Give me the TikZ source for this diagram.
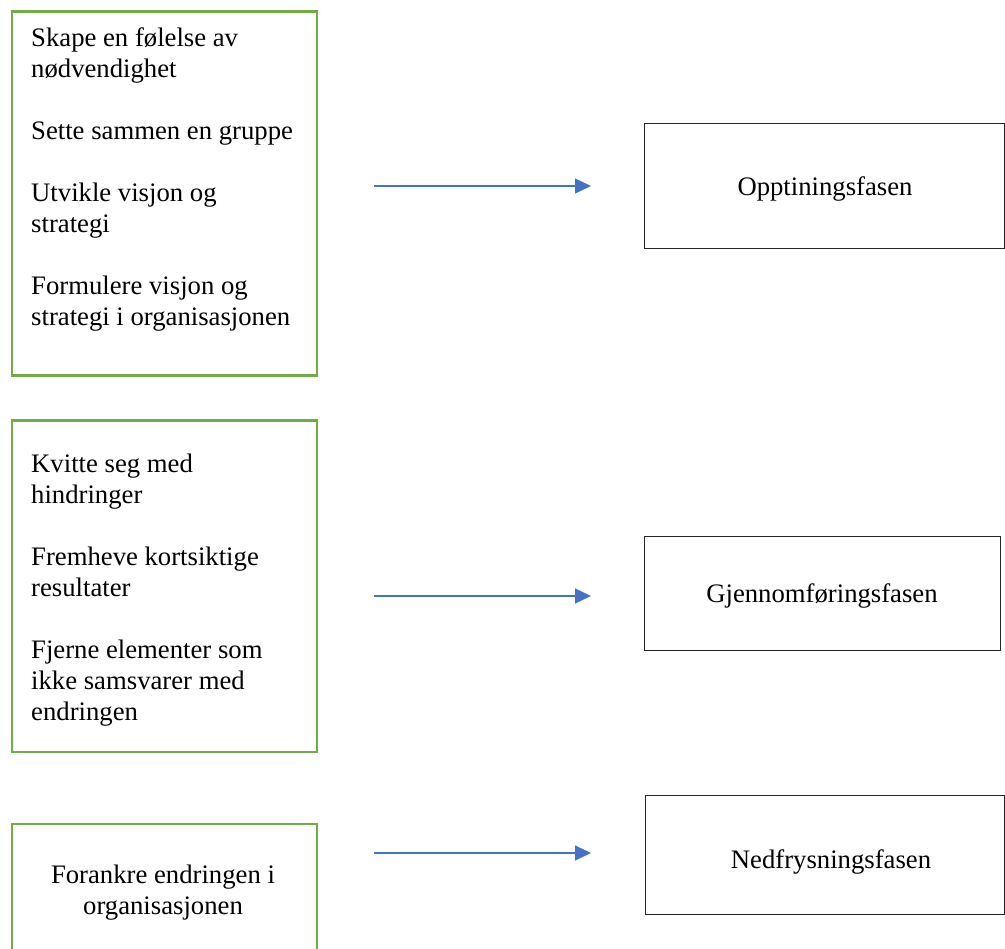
\documentclass[tikz,border=0pt]{standalone}
\usepackage{fontspec}
\setmainfont{Liberation Serif}
\usetikzlibrary{arrows.meta}
\definecolor{boxgreen}{RGB}{112,173,71}
\definecolor{arrowblue}{RGB}{68,114,196}
\begin{document}
\begin{tikzpicture}[x=1pt,y=-1pt,
  greenbox/.style={draw=boxgreen,line width=2.6pt,rectangle,inner sep=0pt,anchor=north west},
  phasebox/.style={draw=black!85,line width=1.3pt,rectangle,inner sep=0pt,anchor=north west},
  txt/.style={font=\fontsize{26.7}{31}\selectfont,inner sep=0pt},
  flow/.style={draw=arrowblue,line width=1.2pt,-{Triangle[length=16pt,width=15pt]}}]
\clip (0,0) rectangle (1005,949);
% green boxes
\node[greenbox,minimum width=305pt,minimum height=364pt] (g1) at (10.5,10.5) {};
\node[greenbox,minimum width=305pt,minimum height=331pt] (g2) at (10.5,419.5) {};
\node[greenbox,minimum width=305pt,minimum height=200pt] (g3) at (10.5,822.5) {};
% texts in green boxes
\node[txt,align=left,anchor=north west] (t1) at (31,28) {Skape en følelse av\\nødvendighet\\[31pt]Sette sammen en gruppe\\[31pt]Utvikle visjon og\\strategi\\[31pt]Formulere visjon og\\strategi i organisasjonen};
\node[txt,align=left,anchor=north west] (t2) at (31,454) {Kvitte seg med\\hindringer\\[31pt]Fremheve kortsiktige\\resultater\\[31pt]Fjerne elementer som\\ikke samsvarer med\\endringen};
\node[txt,align=center,anchor=north] (t3) at (163,865) {Forankre endringen i\\organisasjonen};
% phase boxes
\node[phasebox,minimum width=360pt,minimum height=125pt] (p1) at (644,123) {};
\node[phasebox,minimum width=356pt,minimum height=114pt] (p2) at (644,536) {};
\node[phasebox,minimum width=359pt,minimum height=119pt] (p3) at (645,795) {};
\node[txt] (l1) at (825,189) {Opptiningsfasen};
\node[txt] (l2) at (822,596) {Gjennomføringsfasen};
\node[txt] (l3) at (831,862) {Nedfrysningsfasen};
% arrows
\coordinate (a1s) at (374,186); \coordinate (a1e) at (591,186);
\coordinate (a2s) at (374,596); \coordinate (a2e) at (591,596);
\coordinate (a3s) at (374,853); \coordinate (a3e) at (591,853);
\draw[flow] (a1s) -- (a1e);
\draw[flow] (a2s) -- (a2e);
\draw[flow] (a3s) -- (a3e);
\end{tikzpicture}
\end{document}
